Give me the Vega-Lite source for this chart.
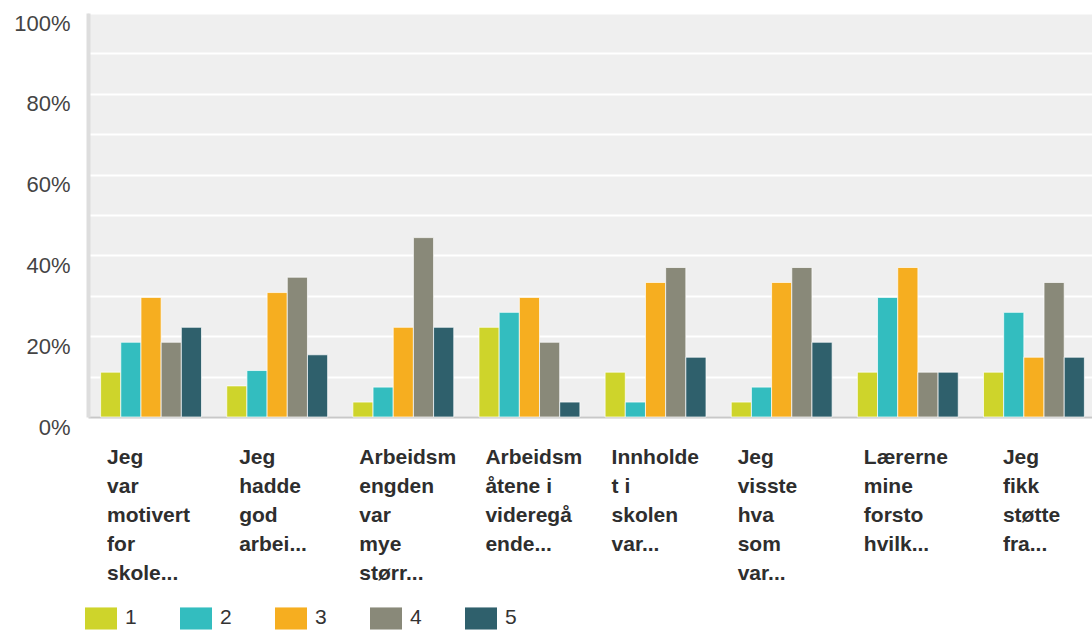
{
  "$schema": "https://vega.github.io/schema/vega-lite/v6.json",
  "autosize": "none",
  "padding": {"left": 88, "top": 13, "right": 0, "bottom": 214},
  "width": 1009,
  "height": 404,
  "background": "#ffffff",
  "config": {
    "view": {"fill": "#efefef", "stroke": null},
    "font": "Liberation Sans"
  },
  "data": {
    "values": [
      {"q": "Jeg\nvar\nmotivert\nfor\nskole...", "svar": "1", "andel": 0.111},
      {"q": "Jeg\nvar\nmotivert\nfor\nskole...", "svar": "2", "andel": 0.185},
      {"q": "Jeg\nvar\nmotivert\nfor\nskole...", "svar": "3", "andel": 0.296},
      {"q": "Jeg\nvar\nmotivert\nfor\nskole...", "svar": "4", "andel": 0.185},
      {"q": "Jeg\nvar\nmotivert\nfor\nskole...", "svar": "5", "andel": 0.222},
      {"q": "Jeg\nhadde\ngod\narbei...", "svar": "1", "andel": 0.077},
      {"q": "Jeg\nhadde\ngod\narbei...", "svar": "2", "andel": 0.115},
      {"q": "Jeg\nhadde\ngod\narbei...", "svar": "3", "andel": 0.308},
      {"q": "Jeg\nhadde\ngod\narbei...", "svar": "4", "andel": 0.346},
      {"q": "Jeg\nhadde\ngod\narbei...", "svar": "5", "andel": 0.154},
      {"q": "Arbeidsm\nengden\nvar\nmye\nstørr...", "svar": "1", "andel": 0.037},
      {"q": "Arbeidsm\nengden\nvar\nmye\nstørr...", "svar": "2", "andel": 0.074},
      {"q": "Arbeidsm\nengden\nvar\nmye\nstørr...", "svar": "3", "andel": 0.222},
      {"q": "Arbeidsm\nengden\nvar\nmye\nstørr...", "svar": "4", "andel": 0.444},
      {"q": "Arbeidsm\nengden\nvar\nmye\nstørr...", "svar": "5", "andel": 0.222},
      {"q": "Arbeidsm\nåtene i\nvideregå\nende...", "svar": "1", "andel": 0.222},
      {"q": "Arbeidsm\nåtene i\nvideregå\nende...", "svar": "2", "andel": 0.259},
      {"q": "Arbeidsm\nåtene i\nvideregå\nende...", "svar": "3", "andel": 0.296},
      {"q": "Arbeidsm\nåtene i\nvideregå\nende...", "svar": "4", "andel": 0.185},
      {"q": "Arbeidsm\nåtene i\nvideregå\nende...", "svar": "5", "andel": 0.037},
      {"q": "Innholde\nt i\nskolen\nvar...", "svar": "1", "andel": 0.111},
      {"q": "Innholde\nt i\nskolen\nvar...", "svar": "2", "andel": 0.037},
      {"q": "Innholde\nt i\nskolen\nvar...", "svar": "3", "andel": 0.333},
      {"q": "Innholde\nt i\nskolen\nvar...", "svar": "4", "andel": 0.370},
      {"q": "Innholde\nt i\nskolen\nvar...", "svar": "5", "andel": 0.148},
      {"q": "Jeg\nvisste\nhva\nsom\nvar...", "svar": "1", "andel": 0.037},
      {"q": "Jeg\nvisste\nhva\nsom\nvar...", "svar": "2", "andel": 0.074},
      {"q": "Jeg\nvisste\nhva\nsom\nvar...", "svar": "3", "andel": 0.333},
      {"q": "Jeg\nvisste\nhva\nsom\nvar...", "svar": "4", "andel": 0.370},
      {"q": "Jeg\nvisste\nhva\nsom\nvar...", "svar": "5", "andel": 0.185},
      {"q": "Lærerne\nmine\nforsto\nhvilk...", "svar": "1", "andel": 0.111},
      {"q": "Lærerne\nmine\nforsto\nhvilk...", "svar": "2", "andel": 0.296},
      {"q": "Lærerne\nmine\nforsto\nhvilk...", "svar": "3", "andel": 0.370},
      {"q": "Lærerne\nmine\nforsto\nhvilk...", "svar": "4", "andel": 0.111},
      {"q": "Lærerne\nmine\nforsto\nhvilk...", "svar": "5", "andel": 0.111},
      {"q": "Jeg\nfikk\nstøtte\nfra...", "svar": "1", "andel": 0.111},
      {"q": "Jeg\nfikk\nstøtte\nfra...", "svar": "2", "andel": 0.259},
      {"q": "Jeg\nfikk\nstøtte\nfra...", "svar": "3", "andel": 0.148},
      {"q": "Jeg\nfikk\nstøtte\nfra...", "svar": "4", "andel": 0.333},
      {"q": "Jeg\nfikk\nstøtte\nfra...", "svar": "5", "andel": 0.148}
    ]
  },
  "mark": {"type": "bar", "stroke": "#ffffff", "strokeWidth": 1, "strokeOpacity": 0.7},
  "encoding": {
    "x": {
      "field": "q",
      "type": "nominal",
      "sort": null,
      "scale": {"paddingInner": 0.2, "paddingOuter": 0.1},
      "axis": {
        "title": null,
        "labelAngle": 0,
        "labelAlign": "left",
        "labelBaseline": "top",
        "labelExpr": "split(datum.label, '\\n')",
        "labelFont": "Liberation Sans",
        "labelFontSize": 21,
        "labelFontWeight": "bold",
        "labelColor": "#2e2e2e",
        "labelLineHeight": 29,
        "labelPadding": 29,
        "labelLimit": 200,
        "labelOffset": {
          "condition": [
            {"test": "indexof(datum.value, 'hadde') >= 0", "value": -38},
            {"test": "indexof(datum.value, 'fikk') >= 0", "value": -31}
          ],
          "value": -44
        },
        "ticks": false,
        "grid": false,
        "domainColor": "#c8c8c8",
        "domainWidth": 2
      }
    },
    "xOffset": {"field": "svar", "type": "nominal", "scale": {"paddingInner": 0, "paddingOuter": 0}},
    "y": {
      "field": "andel",
      "type": "quantitative",
      "scale": {"domain": [0, 1], "nice": false},
      "axis": {
        "title": null,
        "values": [0, 0.1, 0.2, 0.3, 0.4, 0.5, 0.6, 0.7, 0.8, 0.9, 1],
        "format": ".0%",
        "labelExpr": "round(datum.value * 100) % 20 == 0 ? datum.label : ''",
        "labelFont": "Liberation Sans",
        "labelFontSize": 22,
        "labelColor": "#444444",
        "labelPadding": 18,
        "labelOffset": 10,
        "ticks": false,
        "grid": true,
        "gridColor": "#ffffff",
        "gridWidth": 2,
        "gridOpacity": 1,
        "domainColor": "#dddddd",
        "domainWidth": 4
      }
    },
    "color": {
      "field": "svar",
      "type": "nominal",
      "scale": {
        "domain": ["1", "2", "3", "4", "5"],
        "range": ["#ced42b", "#33bdbf", "#f6ae20", "#898979", "#2f606c"]
      },
      "legend": {
        "title": null,
        "orient": "none",
        "direction": "horizontal",
        "legendX": -3,
        "legendY": 589,
        "padding": 0,
        "symbolType": "M-1,-0.69H1V0.69H-1Z",
        "symbolSize": 1024,
        "symbolStrokeWidth": 0,
        "labelFont": "Liberation Sans",
        "labelFontSize": 21,
        "labelColor": "#333333",
        "labelOffset": 8,
        "columnPadding": 43
      }
    }
  }
}
